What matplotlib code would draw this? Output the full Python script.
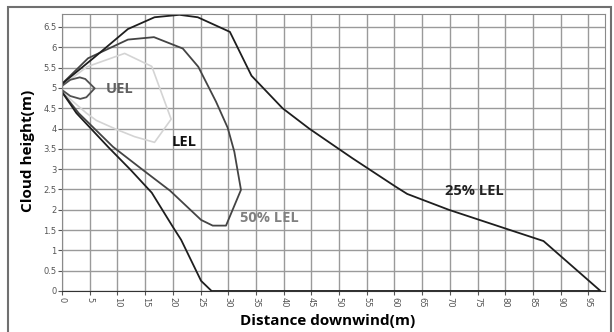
import matplotlib.pyplot as plt
from matplotlib.patches import Rectangle

# contour data (distance m, height m)
lel25_x = [0, 5.9, 11.9, 16.7, 21.2, 24.5, 30.3, 34.2, 39.8, 44.6, 49.4, 52.4, 60.2, 62.3,
           69.8, 80, 86.9, 97.2, 27, 25.1, 21.5, 20.0, 16.2, 12.4, 8.3, 2.6, 0]
lel25_y = [5.1, 5.76, 6.45, 6.74, 6.8, 6.74, 6.38, 5.3, 4.5, 4.0, 3.55, 3.27, 2.57, 2.39,
           2.0, 1.54, 1.23, 0, 0, 0.25, 1.26, 1.58, 2.42, 2.98, 3.55, 4.38, 4.9]

lel_x = [0, 4.7, 11.9, 16.6, 21.8, 24.6, 27.8, 29.9, 31.1, 32.3, 29.6, 27.2, 25.1, 19.5,
         14.6, 9.2, 3.0, 0]
lel_y = [5.1, 5.73, 6.19, 6.25, 5.97, 5.52, 4.66, 4.02, 3.43, 2.49, 1.61, 1.61, 1.75, 2.47,
         2.98, 3.55, 4.38, 4.9]

uel_x = [0, 1.5, 3.2, 4.2, 5.9, 4.4, 3.3, 1.5, 0]
uel_y = [5.05, 5.2, 5.26, 5.22, 4.99, 4.77, 4.73, 4.8, 4.95]

lel50_x = [0, 4.5, 11.3, 16.2, 19.7, 16.7, 13.1, 9.8, 6.2, 4.4, 0]
lel50_y = [5.05, 5.52, 5.85, 5.53, 4.23, 3.66, 3.8, 3.98, 4.2, 4.38, 4.9]

x_ticks = list(range(0, 100, 5))
y_ticks = [0, 0.5, 1, 1.5, 2, 2.5, 3, 3.5, 4, 4.5, 5, 5.5, 6, 6.5]

fig = plt.figure(figsize=(6.14, 3.32), dpi=100)
fig.patches.append(Rectangle((8 / 614, -0.05), 603 / 614, 1 - 7 / 332 + 0.05,
                             transform=fig.transFigure, fill=False,
                             edgecolor='#707070', linewidth=1.5))
ax = fig.add_axes([62 / 614, 41 / 332, 543 / 614, 277 / 332])

ax.plot(lel50_x, lel50_y, color='#d4d4d4', lw=1.2)
ax.plot(uel_x, uel_y, color='#505050', lw=1.3)
ax.plot(lel_x, lel_y, color='#444444', lw=1.3)
ax.plot(lel25_x, lel25_y, color='#1e1e1e', lw=1.3)

ax.set_xlim(0, 98)
ax.set_ylim(0, 6.82)
ax.set_xticks(x_ticks)
ax.set_yticks(y_ticks)
ax.set_xticklabels([str(v) for v in x_ticks], rotation=-90)
ax.set_yticklabels(['0', '0.5', '1', '1.5', '2', '2.5', '3', '3.5', '4', '4.5', '5', '5.5', '6', '6.5'])
ax.tick_params(labelsize=6, colors='#555555', length=3, width=0.8, pad=1)
ax.grid(True, color='#9a9a9a', lw=1.0)
ax.set_axisbelow(True)
for s in ax.spines.values():
    s.set_color('#8a8a8a')
ax.spines['bottom'].set_color('#333333')

lab = dict(fontsize=10.5, fontweight='bold', va='center', family=['Open Sans', 'DejaVu Sans'])
ax.text(7.9, 4.98, 'UEL', color='#606060', **lab)
ax.text(19.8, 3.67, 'LEL', color='#111111', **lab)
ax.text(32.2, 1.8, '50% LEL', color='#808080', **lab)
ax.text(69.2, 2.45, '25% LEL', color='#222222', **lab)

fig.text(328 / 614, 1 - 321 / 332, 'Distance downwind(m)', ha='center', va='center',
         fontsize=11, fontweight='bold', family=['Open Sans', 'DejaVu Sans'])
fig.text(28 / 614, 1 - 151 / 332, 'Cloud height(m)', ha='center', va='center',
         rotation=90, fontsize=11, fontweight='bold', family=['Open Sans', 'DejaVu Sans'])

fig.savefig('out.png', dpi=100)
